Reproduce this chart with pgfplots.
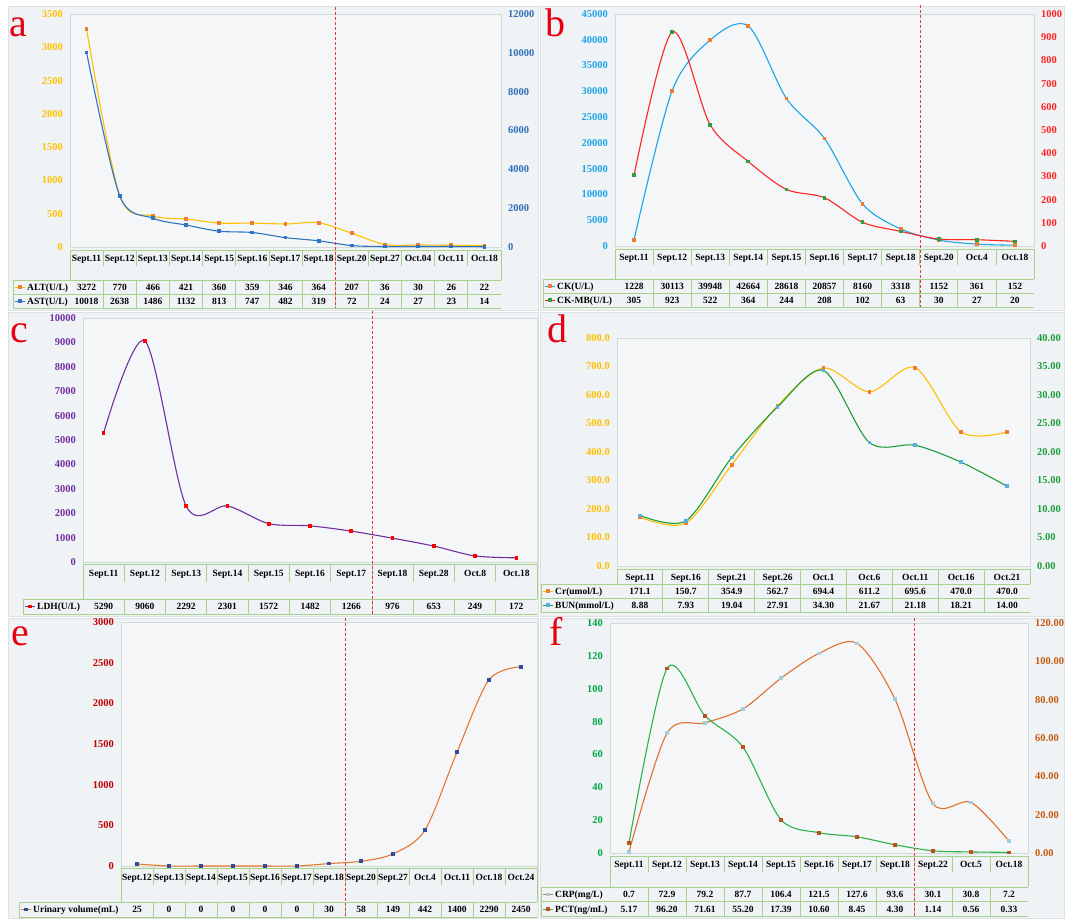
\documentclass[border=0pt]{standalone}
\usepackage{pgfplots}
\pgfplotsset{compat=1.18}
\usepackage{fontspec}
\setmainfont{Liberation Serif}
\definecolor{panelbg}{HTML}{F0F3F6}
\definecolor{panelline}{HTML}{DCE1E5}
\definecolor{plotbg}{HTML}{F4F6F8}
\definecolor{plotborder}{HTML}{CFDCD3}
\definecolor{tblc}{HTML}{A9D18E}
\definecolor{gold}{HTML}{FFC000}
\definecolor{orng}{HTML}{ED7D31}
\definecolor{astblue}{HTML}{2F73C2}
\definecolor{astblue2}{HTML}{2E6FB8}
\definecolor{ckblue}{HTML}{1DA5E6}
\definecolor{ckred}{HTML}{FF2424}
\definecolor{mkgreen}{HTML}{2E9E3E}
\definecolor{ldh}{HTML}{7030A0}
\definecolor{bungreen}{HTML}{1E9C3A}
\definecolor{bunmark}{HTML}{5BAFE0}
\definecolor{urine}{HTML}{E8772E}
\definecolor{urmark}{HTML}{2F4D9E}
\definecolor{urtick}{HTML}{C00000}
\definecolor{crpline}{HTML}{E2702C}
\definecolor{crpmark}{HTML}{9CCFE0}
\definecolor{pctline}{HTML}{2DB24A}
\definecolor{pctmark}{HTML}{C0501A}
\definecolor{ftickg}{HTML}{00A845}
\definecolor{fticko}{HTML}{C65911}
\definecolor{letterred}{HTML}{E60012}
\definecolor{dashred}{HTML}{E8383D}

\pgfplotsset{
  panelax/.style={
    scale only axis, anchor=north west, clip=false,
    xmin=-0.5, xtick=\empty, ymin=0,
    axis line style={draw=plotborder, line width=0.6pt},
    major tick length=0pt,
    tick style={draw=none},
    scaled y ticks=false,
    /pgf/number format/1000 sep={},
    /pgf/number format/assume math mode=true,
    yticklabel style={font=\bfseries\fontsize{10.5}{12}\selectfont, inner sep=0pt},
    every axis plot/.append style={line width=1.1pt, smooth, mark=square*, mark size=1.3pt},
  },
  leftax/.style={panelax, axis background/.style={fill=plotbg}, yticklabel style={xshift=-7pt}},
  rightax/.style={panelax, axis y line*=right, axis x line=none, yticklabel style={xshift=7pt}},
}

\tikzset{
  tbl/.style={draw=tblc, line width=0.8pt},
  cell/.style={font=\bfseries\fontsize{9.5}{11}\selectfont, inner sep=0pt, text height=6.5pt, text depth=0pt, anchor=center},
  letter/.style={anchor=base west, text=letterred, font=\fontsize{40}{40}\selectfont, inner sep=0pt},
  vline/.style={dashred, line width=0.8pt, dash pattern=on 3pt off 2pt},
}

% L R n catTop sepBot rowTop rowH nrows legL
\newcommand\tgrid[9]{%
  \pgfmathsetmacro\tw{(#2-#1)/#3}%
  \pgfmathtruncatemacro\tnm{#3-1}%
  \pgfmathsetmacro\tbot{#6+#8*#7}%
  \draw[tbl] (#1,#4) -- (#2,#4);
  \draw[tbl] (#1,#4) -- (#1,#6);
  \draw[tbl] (#2,#4) -- (#2,#6);
  \foreach \k in {1,...,\tnm}{\draw[tbl] ({#1+\k*\tw},#4) -- ({#1+\k*\tw},#5); \draw[tbl] ({#1+\k*\tw},#6) -- ({#1+\k*\tw},\tbot);}
  \foreach \r in {0,...,#8}{\draw[tbl] (#9,{#6+\r*#7}) -- (#2,{#6+\r*#7});}
  \draw[tbl] (#9,#6) -- (#9,\tbot);
}
% L y list
\newcommand\trow[3]{%
  \foreach \t [count=\c from 0] in {#3}{\node[cell] at ({#1+(\c+0.5)*\tw},#2) {\t};}
}
% legL y linecolor markcolor text
\newcommand\tleg[5]{%
  \draw[#3, line width=1pt] ({#1+2},#2) -- ({#1+12},#2);
  \fill[#4] ({#1+7-1.6},{#2-1.6}) rectangle ({#1+7+1.6},{#2+1.6});
  \node[cell, anchor=west] at ({#1+14},#2) {#5};
}

\begin{document}
\begin{tikzpicture}
\begin{scope}[x=1pt,y=-1pt]
\path[use as bounding box, fill=white] (0,0) rectangle (1065,918);
\filldraw[fill=panelbg, draw=panelline, line width=0.5pt] (8,6) rectangle (538,310);
\filldraw[fill=panelbg, draw=panelline, line width=0.5pt] (540,6) rectangle (1064.5,310);
\filldraw[fill=panelbg, draw=panelline, line width=0.5pt] (8,312) rectangle (538,616);
\filldraw[fill=panelbg, draw=panelline, line width=0.5pt] (540,312) rectangle (1064.5,616);
\filldraw[fill=panelbg, draw=panelline, line width=0.5pt] (8,618) rectangle (538,918);
\filldraw[fill=panelbg, draw=panelline, line width=0.5pt] (540,618) rectangle (1064.5,918);
\end{scope}

% ---------------- panel a ----------------
\begin{axis}[leftax, at={(70pt,-14pt)}, width=431pt, height=233pt, xmax=12.5,
  ymax=3500, ytick={0,500,...,3500}, yticklabel style={text=gold}]
\addplot[gold, mark options={fill=orng, draw=orng}] coordinates {
 (0,3272) (1,770) (2,466) (3,421) (4,360) (5,359) (6,346) (7,364) (8,207) (9,36) (10,30) (11,26) (12,22)};
\end{axis}
\begin{axis}[rightax, at={(70pt,-14pt)}, width=431pt, height=233pt, xmax=12.5,
  ymax=12000, ytick={0,2000,...,12000}, yticklabel style={text=astblue2}]
\addplot[astblue, mark options={fill=astblue, draw=astblue}] coordinates {
 (0,10018) (1,2638) (2,1486) (3,1132) (4,813) (5,747) (6,482) (7,319) (8,72) (9,24) (10,27) (11,23) (12,14)};
\end{axis}

% ---------------- panel b ----------------
\begin{axis}[leftax, at={(615pt,-14pt)}, width=419pt, height=232pt, xmax=10.5,
  ymax=45000, ytick={0,5000,...,45000}, yticklabel style={text=ckblue}]
\addplot[ckblue, mark options={fill=orng, draw=orng}] coordinates {
 (0,1228) (1,30113) (2,39948) (3,42664) (4,28618) (5,20857) (6,8160) (7,3318) (8,1152) (9,361) (10,152)};
\end{axis}
\begin{axis}[rightax, at={(615pt,-14pt)}, width=419pt, height=232pt, xmax=10.5,
  ymax=1000, ytick={0,100,...,1000}, yticklabel style={text=ckred}]
\addplot[ckred, mark options={fill=mkgreen, draw=mkgreen}] coordinates {
 (0,305) (1,923) (2,522) (3,364) (4,244) (5,208) (6,102) (7,63) (8,30) (9,27) (10,20)};
\end{axis}

% ---------------- panel c ----------------
\begin{axis}[leftax, at={(83pt,-318pt)}, width=454pt, height=244pt, xmax=10.5,
  ymax=10000, ytick={0,1000,...,10000}, yticklabel style={text=ldh}]
\addplot[ldh, mark options={fill=red, draw=red}] coordinates {
 (0,5290) (1,9060) (2,2292) (3,2301) (4,1572) (5,1482) (6,1266) (7,976) (8,653) (9,249) (10,172)};
\end{axis}

% ---------------- panel d ----------------
\begin{axis}[leftax, at={(617pt,-338pt)}, width=413pt, height=228pt, xmax=8.5,
  ymax=800, ytick={0,100,...,800}, yticklabel style={text=gold,
  /pgf/number format/fixed, /pgf/number format/fixed zerofill, /pgf/number format/precision=1}]
\addplot[gold, mark options={fill=orng, draw=orng}] coordinates {
 (0,171.1) (1,150.7) (2,354.9) (3,562.7) (4,694.4) (5,611.2) (6,695.6) (7,470.0) (8,470.0)};
\end{axis}
\begin{axis}[rightax, at={(617pt,-338pt)}, width=413pt, height=228pt, xmax=8.5,
  ymax=40, ytick={0,5,...,40}, yticklabel style={text=bungreen,
  /pgf/number format/fixed, /pgf/number format/fixed zerofill, /pgf/number format/precision=2}]
\addplot[bungreen, mark options={fill=bunmark, draw=bunmark}] coordinates {
 (0,8.88) (1,7.93) (2,19.04) (3,27.91) (4,34.30) (5,21.67) (6,21.18) (7,18.21) (8,14.00)};
\end{axis}

% ---------------- panel e ----------------
\begin{axis}[leftax, at={(121pt,-622pt)}, width=416pt, height=244pt, xmax=12.5,
  ymax=3000, ytick={0,500,...,3000}, yticklabel style={text=urtick}]
\addplot[urine, mark options={fill=urmark, draw=urmark}] coordinates {
 (0,25) (1,0) (2,0) (3,0) (4,0) (5,0) (6,30) (7,58) (8,149) (9,442) (10,1400) (11,2290) (12,2450)};
\end{axis}

% ---------------- panel f ----------------
\begin{axis}[leftax, at={(610pt,-623pt)}, width=418pt, height=230pt, xmax=10.5,
  ymax=140, ytick={0,20,...,140}, yticklabel style={text=ftickg}]
\addplot[crpline, mark options={fill=crpmark, draw=crpmark}] coordinates {
 (0,0.7) (1,72.9) (2,79.2) (3,87.7) (4,106.4) (5,121.5) (6,127.6) (7,93.6) (8,30.1) (9,30.8) (10,7.2)};
\end{axis}
\begin{axis}[rightax, at={(610pt,-623pt)}, width=418pt, height=230pt, xmax=10.5,
  ymax=120, ytick={0,20,...,120}, yticklabel style={text=fticko,
  /pgf/number format/fixed, /pgf/number format/fixed zerofill, /pgf/number format/precision=2}]
\addplot[pctline, mark options={fill=pctmark, draw=pctmark}] coordinates {
 (0,5.17) (1,96.20) (2,71.61) (3,55.20) (4,17.39) (5,10.60) (6,8.45) (7,4.30) (8,1.14) (9,0.56) (10,0.33)};
\end{axis}

\begin{scope}[x=1pt,y=-1pt]
% tables
\tgrid{70}{501}{13}{250}{266}{280}{14}{2}{13}
\trow{70}{258}{Sept.11,Sept.12,Sept.13,Sept.14,Sept.15,Sept.16,Sept.17,Sept.18,Sept.20,Sept.27,Oct.04,Oct.11,Oct.18}
\trow{70}{287}{3272,770,466,421,360,359,346,364,207,36,30,26,22}
\trow{70}{301}{10018,2638,1486,1132,813,747,482,319,72,24,27,23,14}
\tleg{13}{287}{gold}{orng}{ALT(U/L)}
\tleg{13}{301}{astblue}{astblue}{AST(U/L)}

\tgrid{615}{1034}{11}{249}{265}{279}{14}{2}{543}
\trow{615}{257}{Sept.11,Sept.12,Sept.13,Sept.14,Sept.15,Sept.16,Sept.17,Sept.18,Sept.20,Oct.4,Oct.18}
\trow{615}{286}{1228,30113,39948,42664,28618,20857,8160,3318,1152,361,152}
\trow{615}{300}{305,923,522,364,244,208,102,63,30,27,20}
\tleg{543}{286}{ckblue}{orng}{CK(U/L)}
\tleg{543}{300}{ckred}{mkgreen}{CK-MB(U/L)}

\tgrid{83}{537}{11}{564}{582}{599}{15}{1}{23}
\trow{83}{573}{Sept.11,Sept.12,Sept.13,Sept.14,Sept.15,Sept.16,Sept.17,Sept.18,Sept.28,Oct.8,Oct.18}
\trow{83}{606.5}{5290,9060,2292,2301,1572,1482,1266,976,653,249,172}
\tleg{23}{606.5}{ldh}{red}{LDH(U/L)}

\tgrid{617}{1030}{9}{569}{584}{584}{14}{2}{541}
\trow{617}{577}{Sept.11,Sept.16,Sept.21,Sept.26,Oct.1,Oct.6,Oct.11,Oct.16,Oct.21}
\trow{617}{591}{171.1,150.7,354.9,562.7,694.4,611.2,695.6,470.0,470.0}
\trow{617}{605}{8.88,7.93,19.04,27.91,34.30,21.67,21.18,18.21,14.00}
\tleg{541}{591}{gold}{orng}{Cr(umol/L)}
\tleg{541}{605}{bungreen}{bunmark}{BUN(mmol/L)}

\tgrid{121}{537}{13}{868}{885}{902}{15}{1}{19}
\trow{121}{877}{Sept.12,Sept.13,Sept.14,Sept.15,Sept.16,Sept.17,Sept.18,Sept.20,Sept.27,Oct.4,Oct.11,Oct.18,Oct.24}
\trow{121}{909.5}{25,0,0,0,0,0,30,58,149,442,1400,2290,2450}
\tleg{19}{909.5}{urine}{urmark}{Urinary volume(mL)}

\tgrid{610}{1028}{11}{856}{872}{887}{14.5}{2}{541}
\trow{610}{864}{Sept.11,Sept.12,Sept.13,Sept.14,Sept.15,Sept.16,Sept.17,Sept.18,Sept.22,Oct.5,Oct.18}
\trow{610}{894.5}{0.7,72.9,79.2,87.7,106.4,121.5,127.6,93.6,30.1,30.8,7.2}
\trow{610}{909}{5.17,96.20,71.61,55.20,17.39,10.60,8.45,4.30,1.14,0.56,0.33}
\tleg{541}{894.5}{crpline}{crpmark}{CRP(mg/L)}
\tleg{541}{909}{pctline}{pctmark}{PCT(ng/mL)}

% panel letters
\node[letter] at (9,36) {a};
\node[letter] at (545,36) {b};
\node[letter] at (10,342) {c};
\node[letter] at (547,342) {d};
\node[letter] at (11,645) {e};
\node[letter] at (549,645) {f};

% dashed separators
\draw[vline] (335,7) -- (335,308);
\draw[vline] (920,5) -- (920,307);
\draw[vline] (372,311) -- (372,614);
\draw[vline] (345,618) -- (345,917);
\draw[vline] (914,618) -- (914,917);
\end{scope}
\end{tikzpicture}
\end{document}
